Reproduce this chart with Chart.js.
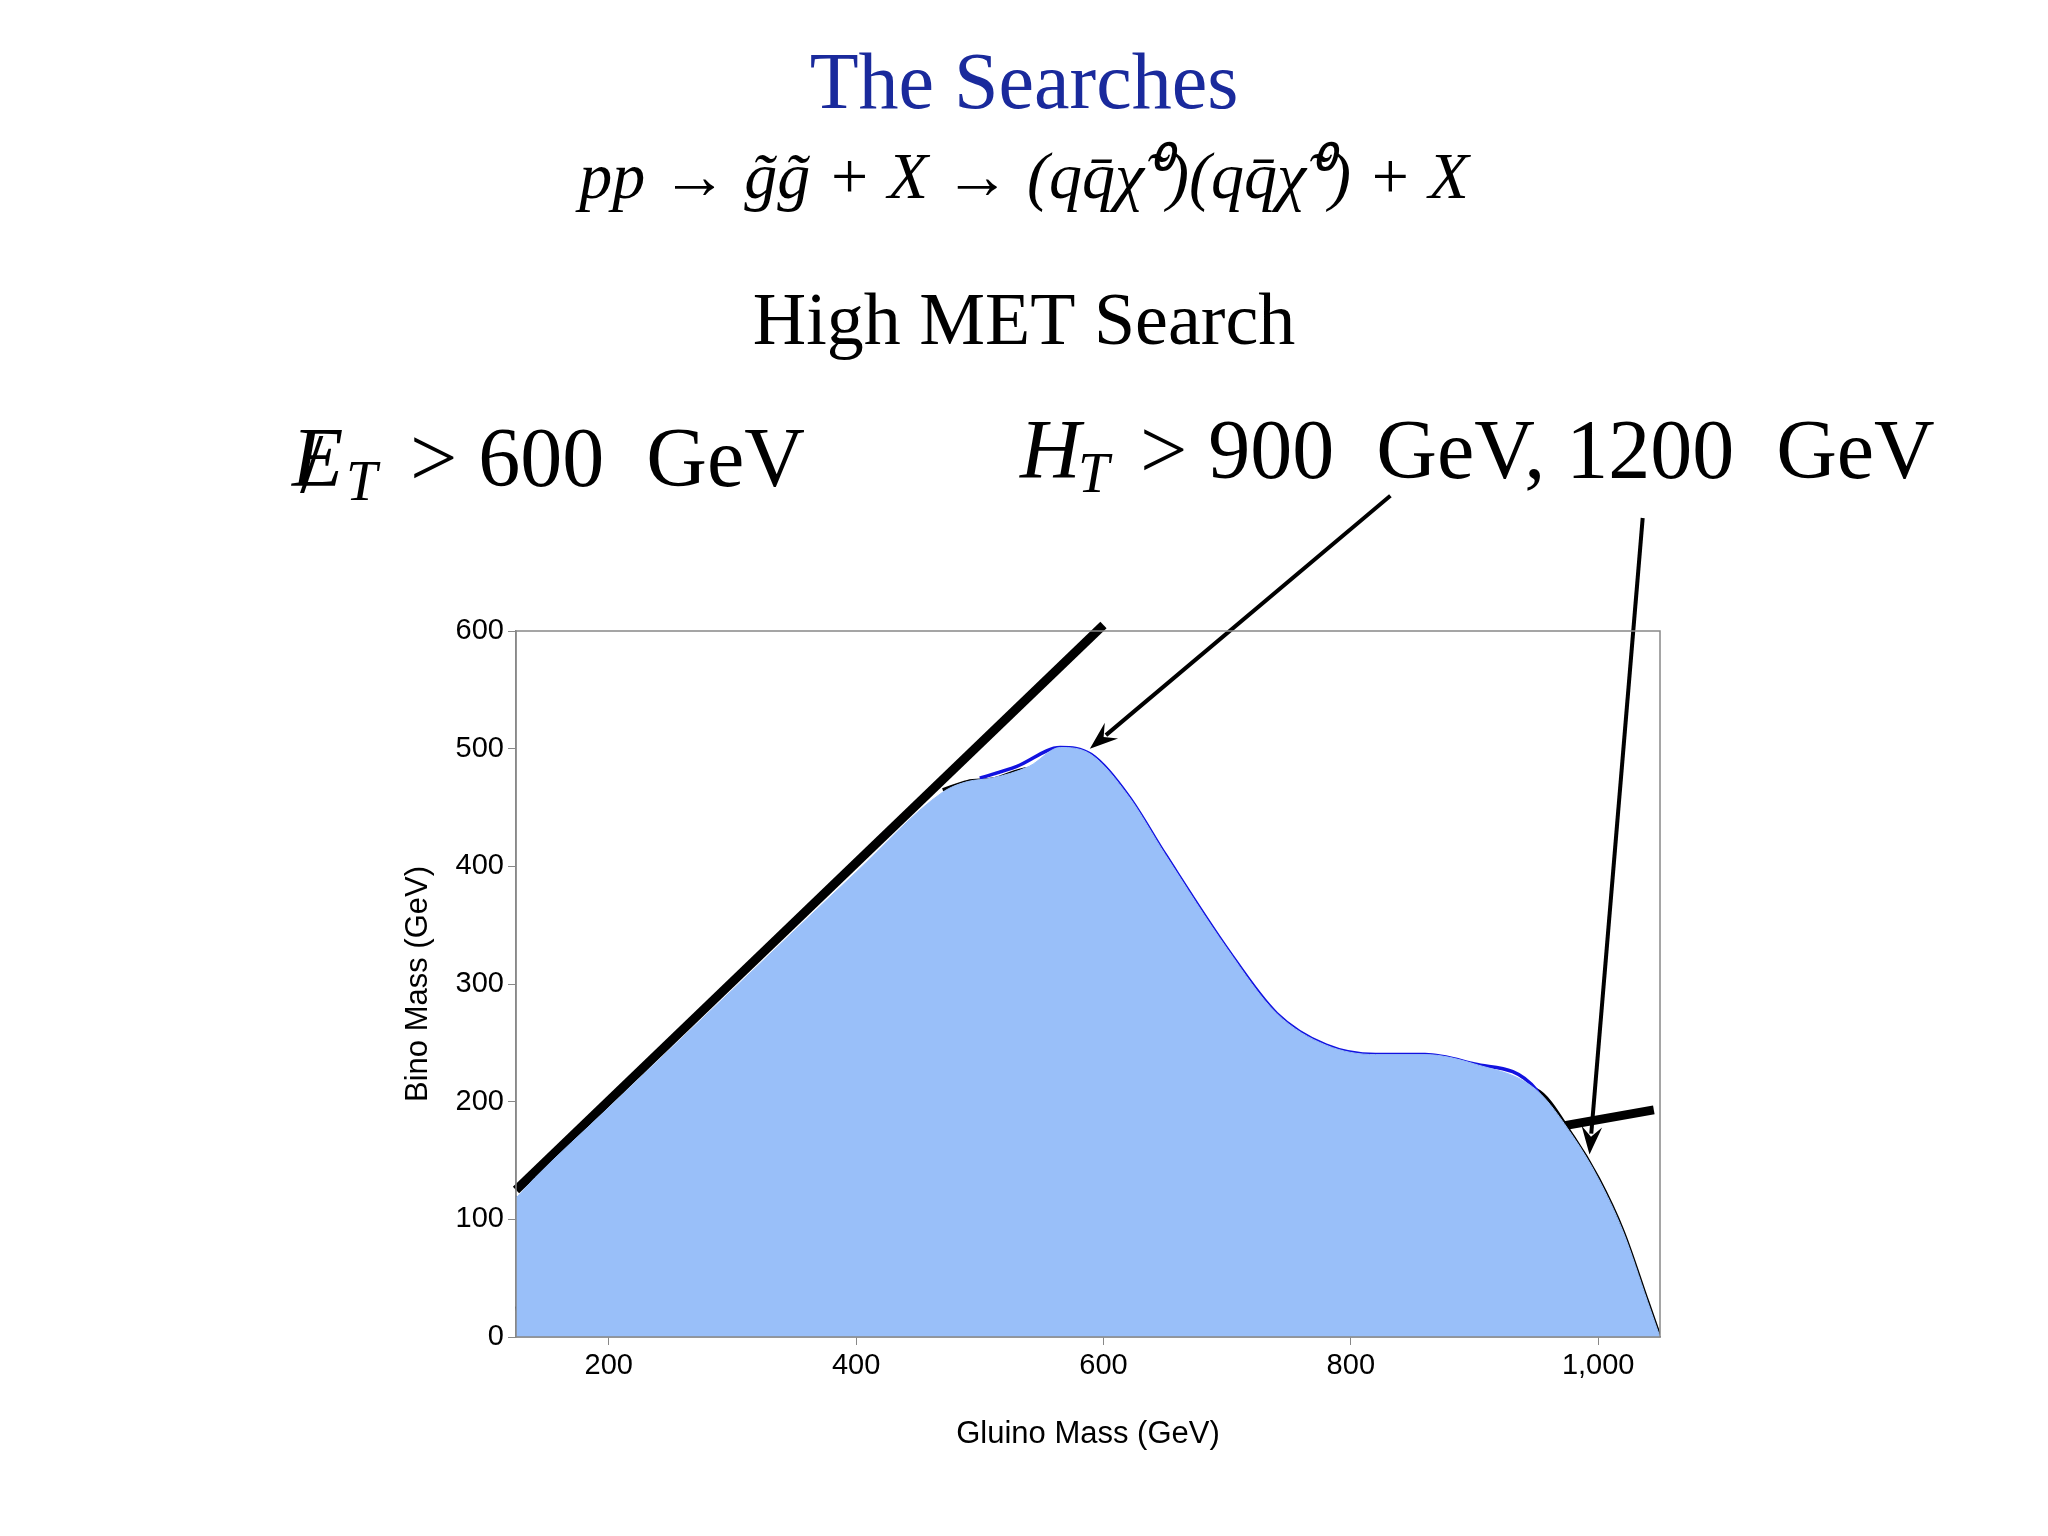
<!DOCTYPE html>
<html><head><meta charset="utf-8">
<script src="https://cdn.jsdelivr.net/npm/chart.js@4.4.1/dist/chart.umd.min.js"></script>
<style>html,body{margin:0;padding:0;background:#fff}</style>
</head><body><canvas id="c" width="2048" height="1536"></canvas>
<script>
// light region upper envelope
const lightX = [125,140,200,300,400,470,490,510,540,565,590,620,650,700,740,780,820,860,900,950,980,1000,1020,1040,1050];
const lightY = [118,135,195,295,395,463,472,475,485,501,495,460,410,330,275,248,240,240,232,210,170,135,90,30,0];
// darker region (lower left)
const darkX = [125,128,135,150,165,180,200,230,260,300,350,380,400,420,440,455,460];
const darkY = [120,112,92,80,82,92,100,115,120,123,124,118,105,80,50,20,0];
// blue contour
const blueX = [500,530,565,590,620,650,700,740,780,820,860,900,950,962,975,990,1000];
const blueY = [475,485,501,495,460,410,330,275,248,240,240,232,210,175,120,45,0];
// black contour
const blackX = [470,490,510,540,560,590,620,650,700,740,780,820,860,900,950,980,1000,1020,1040,1050];
const blackY = [465,472,474,483,483,470,440,395,315,255,228,221,221,218,210,170,135,90,30,0];
// cut lines
const metX = [125,600], metY = [125,605];
const htX = [125,1045], htY = [22,193];
// arrows (data coords): [x0,y0,x1,y1]
const arrows = [[832,715,589,500],[1036,696,993,155]];
const xTicks = [200,400,600,800,1000];
const yTicks = [0,100,200,300,400,500,600];

const pts = (xs,ys)=>xs.map((x,i)=>({x:x,y:ys[i]}));

const overlay = {
  id:'overlay',
  afterDatasetsDraw(chart){
    const ctx = chart.ctx, xs = chart.scales.x, ys = chart.scales.y;
    ctx.save();
    ctx.strokeStyle='#000'; ctx.fillStyle='#000'; ctx.lineWidth=4;
    arrows.forEach(a=>{
      const x0=xs.getPixelForValue(a[0]), y0=ys.getPixelForValue(a[1]);
      const x1=xs.getPixelForValue(a[2]), y1=ys.getPixelForValue(a[3]);
      const ang=Math.atan2(y1-y0,x1-x0), L=30;
      ctx.beginPath(); ctx.moveTo(x0,y0);
      ctx.lineTo(x1-Math.cos(ang)*L*0.7,y1-Math.sin(ang)*L*0.7); ctx.stroke();
      ctx.beginPath(); ctx.moveTo(x1,y1);
      ctx.lineTo(x1-L*Math.cos(ang-0.35),y1-L*Math.sin(ang-0.35));
      ctx.lineTo(x1-L*0.6*Math.cos(ang),y1-L*0.6*Math.sin(ang));
      ctx.lineTo(x1-L*Math.cos(ang+0.35),y1-L*Math.sin(ang+0.35));
      ctx.closePath(); ctx.fill();
    });
    // headings
    ctx.textBaseline='alphabetic';
    ctx.textAlign='center';
    ctx.fillStyle='#1a2a9c';
    ctx.font='80px "Liberation Serif"';
    ctx.fillText('The Searches',1024,108);
    ctx.fillStyle='#000';
    ctx.font='italic 66px "Liberation Serif"';
    ctx.fillText('pp → g̃g̃ + X → (qq̄χ̃⁰)(qq̄χ̃⁰) + X',1024,198);
    ctx.font='74px "Liberation Serif"';
    ctx.fillText('High MET Search',1024,344);
    // MET cut
    ctx.textAlign='left';
    ctx.font='italic 84px "Liberation Serif"';
    ctx.fillText('E',292,486);
    ctx.font='84px "Liberation Serif"';
    ctx.fillText('/',300,492);
    ctx.font='italic 56px "Liberation Serif"';
    ctx.fillText('T',346,500);
    ctx.font='84px "Liberation Serif"';
    ctx.fillText('> 600  GeV',410,486);
    // HT cut
    ctx.font='italic 84px "Liberation Serif"';
    ctx.fillText('H',1020,478);
    ctx.font='italic 56px "Liberation Serif"';
    ctx.fillText('T',1078,492);
    ctx.font='84px "Liberation Serif"';
    ctx.fillText('> 900  GeV, 1200  GeV',1140,478);
    ctx.restore();
  }
};

const lineDs = (d,color,w,extra)=>Object.assign({data:d,borderColor:color,borderWidth:w,pointRadius:0,fill:false,tension:0.4,cubicInterpolationMode:'monotone'},extra||{});

new Chart(document.getElementById('c'),{
  type:'line',
  data:{datasets:[
    lineDs(pts(lightX,lightY),'#99bff9',1,{fill:'origin',backgroundColor:'#99bff9'}),
    lineDs(pts(darkX,darkY),'#3a7fe8',1.5,{fill:'origin',backgroundColor:'#4d90f7'}),
    lineDs(pts(blueX,blueY),'#1212e0',3.5),
    lineDs(pts(blackX,blackY),'#000',3.5),
    lineDs(pts(metX,metY),'#000',9,{tension:0,clip:false}),
    lineDs(pts(htX,htY),'#000',9,{tension:0,clip:false})
  ]},
  options:{
    responsive:false, animation:false, devicePixelRatio:1,
    layout:{padding:{left:396,right:388,top:631,bottom:79}},
    plugins:{legend:{display:false},tooltip:{enabled:false}},
    scales:{
      x:{type:'linear',min:125,max:1050,
        afterBuildTicks:s=>{s.ticks=xTicks.map(v=>({value:v}));},
        afterFit:s=>{s.height=120;},
        border:{display:true,color:'#888',width:1.5},
        grid:{drawOnChartArea:false,color:'#888',tickLength:8},
        ticks:{color:'#000',font:{family:'Liberation Sans',size:29},padding:4},
        title:{display:true,text:'Gluino Mass (GeV)',color:'#000',font:{family:'Liberation Sans',size:31},padding:{top:14}}},
      y:{type:'linear',min:0,max:600,
        afterBuildTicks:s=>{s.ticks=yTicks.map(v=>({value:v}));},
        afterFit:s=>{s.width=120;},
        border:{display:true,color:'#888',width:1.5},
        grid:{drawOnChartArea:false,color:'#888',tickLength:8},
        ticks:{color:'#000',font:{family:'Liberation Sans',size:29},padding:4},
        title:{display:true,text:'Bino Mass (GeV)',color:'#000',font:{family:'Liberation Sans',size:31},padding:{bottom:8}}}
    }
  },
  plugins:[overlay,{id:'frame',afterDraw(c){const a=c.chartArea,ctx=c.ctx;ctx.save();ctx.strokeStyle='#888';ctx.lineWidth=1.5;ctx.strokeRect(a.left,a.top,a.right-a.left,a.bottom-a.top);ctx.restore();}}]
});
</script>
</body></html>
